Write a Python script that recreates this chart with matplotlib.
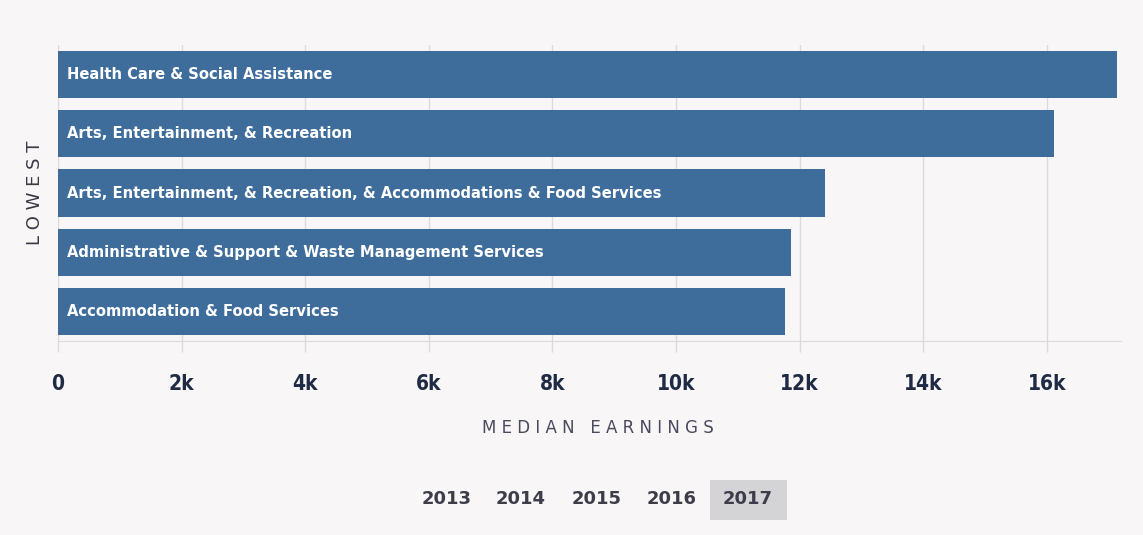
import matplotlib
matplotlib.use("Agg")
import matplotlib.pyplot as plt
from matplotlib.patches import FancyBboxPatch

# ---- data ----
industries = [
    "Health Care & Social Assistance",
    "Arts, Entertainment, & Recreation",
    "Arts, Entertainment, & Recreation, & Accommodations & Food Services",
    "Administrative & Support & Waste Management Services",
    "Accommodation & Food Services",
]
median_earnings = [17140, 16120, 12410, 11860, 11760]
tick_values = [0, 2000, 4000, 6000, 8000, 10000, 12000, 14000, 16000]
tick_labels = ["0", "2k", "4k", "6k", "8k", "10k", "12k", "14k", "16k"]
years = ["2013", "2014", "2015", "2016", "2017"]
selected_year = "2017"

BG = "#f8f6f7"
BAR = "#3e6d9c"
NAVY = "#1f2a44"
GRID = "#dcdadc"

COND = dict(family=["DejaVu Sans"], stretch="condensed", fontweight="bold")

fig = plt.figure(figsize=(11.43, 5.35), dpi=100, facecolor=BG)
ax = fig.add_axes([58 / 1143, 1 - 341 / 535, (1121 - 58) / 1143, (341 - 45) / 535])
ax.set_facecolor(BG)

y = list(range(len(industries)))
ax.barh(y, median_earnings, height=0.8, color=BAR, zorder=2)
for yi, name in zip(y, industries):
    ax.text(150, yi, name, color="white", fontsize=11.8,
            va="center", ha="left", zorder=3, **COND)

ax.set_ylim(len(industries) - 0.5, -0.5)
ax.set_xlim(0, 17200)
ax.set_yticks([])
ax.set_xticks(tick_values)
ax.set_xticklabels(tick_labels, fontsize=15, color=NAVY, **COND)
ax.tick_params(axis="x", length=8, width=1, color=GRID, pad=16)
ax.grid(axis="x", color=GRID, linewidth=1, zorder=0)
for s in ["top", "right", "left"]:
    ax.spines[s].set_visible(False)
ax.spines["bottom"].set_color(GRID)

ax.set_ylabel("L O W E S T", fontsize=13, color="#3a3a46", labelpad=10,
              family=["DejaVu Sans"])

fig.text(598 / 1143, 1 - 428 / 535, "M E D I A N   E A R N I N G S",
         fontsize=12, color="#4a4a5e", ha="center", va="center",
         family=["DejaVu Sans"])

# year selector
year_x = [447, 521, 597, 672, 748]
for yr, xp in zip(years, year_x):
    if yr == selected_year:
        fig.patches.append(FancyBboxPatch(
            (710 / 1143, 1 - 520 / 535), 77 / 1143, 40 / 535,
            boxstyle="square,pad=0", transform=fig.transFigure,
            facecolor="#d4d3d6", edgecolor="none"))
    fig.text(xp / 1143, 1 - 499 / 535, yr, fontsize=13, fontweight="bold",
             color="#3d3d4a", ha="center", va="center",
             family=["DejaVu Sans"])

fig.savefig("out.png", dpi=100, facecolor=BG)
